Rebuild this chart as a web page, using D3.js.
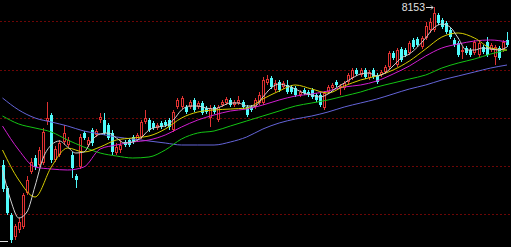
<!doctype html>
<meta charset="utf-8">
<script src="https://d3js.org/d3.v7.min.js"></script>
<style>
body { margin: 0; background: #000; }
svg { display: block; }
</style>
<body></body>
<script>

var width = 511;
var height = 247;

var opens = [6570,6340,6070,5850,5920,5950,6290,6500,6640,6570,
    6590,7010,7070,6620,6670,6800,6770,6670,6460,6550,
    6890,6770,6920,6870,7020,7020,6970,6890,6690,6720,
    6800,6820,6850,6820,6850,7000,7020,6990,6940,6990,
    7000,7020,6920,7150,7150,7150,7150,7220,7150,7190,
    7140,7040,7150,7020,7170,7190,7220,7170,7190,7200,
    7150,7150,7150,7190,7190,7390,7440,7320,7400,7350,
    7370,7350,7340,7270,7320,7300,7320,7270,7270,7140,
    7300,7340,7400,7340,7340,7400,7440,7520,7470,7520,
    7440,7520,7470,7470,7500,7550,7690,7570,7730,7720,
    7690,7820,7830,7750,7840,7920,7920,8070,8020,7990,
    7920,7820,7790,7700,7740,7720,7690,7670,7750,7800,
    7720,7650,7740,7720,7820];

var closes = [6330,6090,5820,5960,6000,6270,6420,6600,6550,6720,
    6900,7040,6620,6730,6790,6890,6820,6540,6420,6850,
    6840,6820,6790,6910,7050,6890,6840,6700,6750,6770,
    6770,6770,6800,6870,7000,7040,6920,6940,6970,6950,
    6970,6950,7100,7220,7240,7100,7200,7120,7190,7090,
    7100,7140,7100,7150,7200,7230,7170,7200,7220,7150,
    7070,7120,7220,7270,7420,7430,7350,7390,7320,7390,
    7300,7300,7270,7300,7290,7270,7250,7220,7170,7290,
    7350,7370,7370,7360,7390,7470,7520,7480,7520,7450,
    7500,7450,7400,7500,7550,7690,7640,7720,7620,7670,
    7790,7750,7770,7840,7960,8000,8090,7990,7950,7900,
    7850,7770,7670,7720,7690,7670,7800,7790,7700,7670,
    7770,7750,7640,7800,7770];

var highs = [6620,6360,6090,5980,6040,6290,6460,6640,6670,6750,
    6940,7200,7090,6760,6820,6970,6850,6700,6480,6880,
    6910,6850,6940,6930,7090,7090,6990,6920,6790,6820,
    6820,6840,6870,6890,7020,7120,7040,7010,6990,7010,
    7020,7040,7120,7240,7260,7170,7220,7240,7210,7210,
    7160,7170,7170,7170,7220,7250,7240,7220,7260,7220,
    7170,7170,7240,7300,7450,7470,7460,7420,7420,7410,
    7420,7370,7360,7320,7340,7320,7340,7290,7290,7310,
    7370,7390,7420,7380,7410,7490,7540,7540,7540,7540,
    7520,7540,7490,7520,7570,7710,7710,7740,7750,7740,
    7810,7840,7850,7860,8000,8040,8153,8090,8040,8010,
    7940,7840,7810,7750,7760,7740,7820,7810,7770,7850,
    7790,7770,7760,7820,7900];

var lows = [6300,6070,5790,5820,5890,5930,6270,6480,6520,6550,
    6570,6970,6590,6600,6650,6770,6750,6440,6340,6530,
    6820,6750,6760,6850,6990,6870,6820,6670,6670,6690,
    6750,6750,6780,6800,6830,6980,6900,6920,6920,6930,
    6950,6920,6900,7130,7130,7080,7130,7100,7130,7070,
    7080,6950,7080,7000,7150,7170,7150,7150,7170,7130,
    7050,7100,7130,7170,7170,7370,7330,7300,7300,7330,
    7280,7280,7250,7250,7270,7250,7230,7200,7150,7120,
    7280,7320,7350,7270,7320,7380,7420,7460,7450,7430,
    7420,7430,7380,7450,7480,7530,7620,7550,7600,7650,
    7670,7730,7750,7730,7820,7890,7900,7970,7930,7880,
    7830,7750,7650,7630,7670,7650,7670,7650,7680,7650,
    7700,7570,7620,7700,7750];

// MA5 read at every 2nd bar, the others at every 4th bar
var ma5 = [6520,6220,6040,6100,6360,6640,6770,6810,6750,6690,
    6700,6820,6880,6890,6840,6790,6800,6840,6920,6950,
    6960,7020,7120,7160,7160,7140,7130,7160,7190,7190,
    7160,7160,7250,7340,7380,7360,7330,7290,7270,7250,
    7280,7340,7390,7440,7480,7490,7460,7490,7560,7640,
    7680,7750,7840,7940,7980,7950,7840,7720,7720,7740,
    7730,7720,7750];
var ma10 = [6720,6420,6250,6550,6740,6700,6750,6820,6840,6860,
    6930,7040,7100,7120,7130,7140,7230,7310,7370,7330,
    7290,7360,7420,7460,7520,7610,7730,7850,7890,7840,
    7740,7720];
var ma20 = [6960,6720,6550,6530,6520,6550,6730,6770,6800,6820,
    6870,6950,7020,7070,7110,7130,7170,7220,7260,7280,
    7310,7350,7370,7410,7480,7560,7660,7740,7780,7810,
    7820,7800];
var ma30 = [7060,6980,6940,6900,6820,6750,6690,6660,6640,6650,
    6720,6830,6890,6910,6960,7010,7060,7110,7160,7190,
    7220,7260,7300,7350,7390,7430,7470,7540,7590,7630,
    7680,7720];
var ma60 = [7240,7120,7040,7000,6960,6910,6880,6850,6830,6810,
    6790,6770,6770,6770,6800,6850,6930,6990,7030,7060,
    7100,7150,7190,7230,7280,7330,7370,7420,7460,7500,
    7540,7570];

var gridValues = [8005, 7525, 7045, 6565, 6085];

var upColor = "#e03232";
var downColor = "#50fafa";

var svg = d3.select("body")
        .append("svg")
        .attr("width", width)
        .attr("height", height);

svg.append("rect")
        .attr("width", width)
        .attr("height", height)
        .attr("fill", "#000");

var n = closes.length;

var x = d3.scalePoint()
        .domain(d3.range(n))
        .range([2.5, 507]);

var y = d3.scaleLinear()
        .domain([5750, 8220])
        .range([height, 0]);

// dotted grid
svg.selectAll("line.grid")
        .data(gridValues)
        .enter()
        .append("line")
        .attr("x1", 0)
        .attr("x2", width)
        .attr("y1", function(d){ return Math.round(y(d)) + 0.5; })
        .attr("y2", function(d){ return Math.round(y(d)) + 0.5; })
        .attr("stroke", "#6c0606")
        .attr("stroke-dasharray", "2,2");

// candles
var bars = svg.selectAll("g.bar")
        .data(d3.range(n))
        .enter()
        .append("g");

bars.each(function(i){
    var g = d3.select(this);
    var cx = Math.round(x(i));
    var up = closes[i] >= opens[i];
    var top = Math.round(y(Math.max(opens[i], closes[i])));
    var bot = Math.round(y(Math.min(opens[i], closes[i])));
    if (bot - top < 1) bot = top + 1;
    var col = up ? upColor : downColor;

    g.append("line")
        .attr("x1", cx + 0.5).attr("x2", cx + 0.5)
        .attr("y1", Math.round(y(highs[i]))).attr("y2", top)
        .attr("stroke", col);
    g.append("line")
        .attr("x1", cx + 0.5).attr("x2", cx + 0.5)
        .attr("y1", bot).attr("y2", Math.round(y(lows[i])))
        .attr("stroke", col);

    if (up) {
        g.append("rect")
            .attr("x", cx - 0.5)
            .attr("y", top + 0.5)
            .attr("width", 2)
            .attr("height", Math.max(bot - top - 1, 0))
            .attr("fill", "#000")
            .attr("stroke", col);
    } else {
        g.append("rect")
            .attr("x", cx - 1)
            .attr("y", top)
            .attr("width", 3)
            .attr("height", bot - top)
            .attr("fill", col);
    }
});

// moving averages
function drawMA(values, step, color){
    var line = d3.line()
            .x(function(d, k){ return x(k * step); })
            .y(function(d){ return y(d); })
            .curve(d3.curveMonotoneX);
    svg.append("path")
            .datum(values)
            .attr("d", line)
            .attr("fill", "none")
            .attr("stroke", color)
            .attr("stroke-width", 1);
}

drawMA(ma60, 4, "#6464d8");
drawMA(ma30, 4, "#14c414");
drawMA(ma20, 4, "#d21ed2");
drawMA(ma10, 4, "#d6cc00");
drawMA(ma5, 2, "#d0d0d0");

// high / low markers
var hiIdx = d3.maxIndex(highs);
var loIdx = d3.minIndex(lows);
var hx = Math.round(x(hiIdx));
var hy = Math.round(y(highs[hiIdx]));

svg.append("text")
        .attr("x", hx - 9)
        .attr("y", hy + 4)
        .attr("text-anchor", "end")
        .attr("fill", "#e0e0e0")
        .style("font-family", "'Liberation Sans Narrow', 'Liberation Sans', sans-serif")
        .style("font-size", "10.5px")
        .text(d3.format("d")(highs[hiIdx]));

svg.append("path")
        .attr("d", "M" + (hx - 8) + "," + (hy + 0.5) + "H" + (hx - 1)
            + "M" + (hx - 3) + "," + (hy - 1.5) + "L" + (hx - 1) + "," + (hy + 0.5)
            + "L" + (hx - 3) + "," + (hy + 2.5))
        .attr("fill", "none")
        .attr("stroke", "#e0e0e0");

var lx = Math.round(x(loIdx));
var ly = Math.round(y(lows[loIdx]));
svg.append("path")
        .attr("d", "M" + (lx - 11) + "," + (ly - 1.5) + "H" + (lx - 3))
        .attr("fill", "none")
        .attr("stroke", "#dcdcdc");

</script>
